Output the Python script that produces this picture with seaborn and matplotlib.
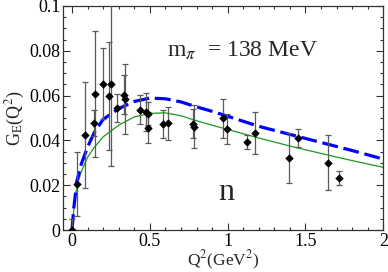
import numpy as np
import pandas as pd
import seaborn as sns
from matplotlib import pyplot as plt

# measured points (Q^2, G_E, error)
q2_data = [0.0, 0.032, 0.081, 0.143, 0.147, 0.201, 0.238, 0.251, 0.291, 0.334,
           0.343, 0.437, 0.476, 0.490, 0.490, 0.583, 0.619, 0.780, 0.782, 0.969,
           0.995, 1.127, 1.177, 1.397, 1.449, 1.642, 1.717]
ge_data = [0.0, 0.0205, 0.0425, 0.0477, 0.0608, 0.0653, 0.0599, 0.0653, 0.0546, 0.0605,
           0.0585, 0.0538, 0.0528, 0.0519, 0.0457, 0.0475, 0.0476, 0.0474, 0.0461, 0.0499,
           0.0450, 0.0392, 0.0435, 0.0322, 0.0410, 0.0301, 0.0233]
ge_err = [0.005, 0.0143, 0.0236, 0.0058, 0.028, 0.0158, 0.0242, 0.0366, 0.0062, 0.0085,
          0.0155, 0.0063, 0.0085, 0.0052, 0.0069, 0.0062, 0.0072, 0.0065, 0.0096, 0.0086,
          0.0066, 0.0032, 0.0094, 0.0113, 0.004, 0.0123, 0.003]

# dashed curve
q2_dash = [0.0, 0.012, 0.032, 0.06, 0.1, 0.143, 0.2, 0.3, 0.4, 0.5, 0.6, 0.7,
           0.8, 0.9, 1.0, 1.2, 1.4, 1.6, 1.8, 2.0]
ge_dash = [0.0, 0.010, 0.022, 0.0295, 0.037, 0.0435, 0.0494, 0.0542, 0.0574, 0.0589,
           0.0586, 0.0572, 0.0550, 0.0530, 0.0508, 0.0463, 0.0427, 0.0391, 0.0355, 0.0317]

# solid curve
q2_solid = [0.0, 0.012, 0.032, 0.06, 0.1, 0.143, 0.2, 0.3, 0.4, 0.5, 0.6, 0.7,
            0.8, 0.9, 1.0, 1.2, 1.4, 1.6, 1.8, 2.0]
ge_solid = [0.0, 0.009, 0.0199, 0.026, 0.0325, 0.0369, 0.0416, 0.0468, 0.0505, 0.0521,
            0.0523, 0.0510, 0.0488, 0.0468, 0.0449, 0.0411, 0.0375, 0.0342, 0.0310, 0.0280]

sns.set_style("ticks")
plt.rcParams['font.family'] = ['Liberation Serif', 'DejaVu Serif']
plt.rcParams['mathtext.fontset'] = 'stix'

fig = plt.figure(figsize=(3.88, 2.72), dpi=100)
ax = fig.add_axes([0.163, 0.154, 0.825, 0.824])

df_dash = pd.DataFrame({'q2': q2_dash, 'ge': ge_dash})
df_solid = pd.DataFrame({'q2': q2_solid, 'ge': ge_solid})
df_pts = pd.DataFrame({'q2': q2_data, 'ge': ge_data, 'err': ge_err})

sns.lineplot(data=df_solid, x='q2', y='ge', ax=ax, color='#1a9a1a', lw=0.9,
             sort=False, estimator=None)
sns.lineplot(data=df_dash, x='q2', y='ge', ax=ax, color='#0000ff', lw=2.3,
             sort=False, estimator=None)
ax.lines[-1].set_dashes((5, 1.8))

ax.errorbar(df_pts['q2'], df_pts['ge'], yerr=df_pts['err'], fmt='none',
            ecolor='#5a5a5a', elinewidth=0.9, capsize=2.5, capthick=0.9, zorder=3)
sns.scatterplot(data=df_pts, x='q2', y='ge', ax=ax, marker='D', s=15,
                color='black', edgecolor='black', linewidth=0.4, zorder=4)

ax.set_xlim(-0.056, 2)
ax.set_ylim(0, 0.1)
ax.set_xticks([0, 0.5, 1, 1.5, 2])
ax.set_xticklabels(['0', '0.5', '1', '1.5', '2'])
ax.set_yticks([0, 0.02, 0.04, 0.06, 0.08, 0.1])
ax.set_yticklabels(['0', '0.02', '0.04', '0.06', '0.08', '0.1'])
ax.set_xticks(np.arange(0, 2.01, 0.1), minor=True)
ax.set_yticks(np.arange(0, 0.1001, 0.005), minor=True)
ax.tick_params(which='both', direction='in', top=True, right=True,
               labelsize=13, width=0.8, colors='#333333', labelcolor='black')
ax.tick_params(which='major', length=5, pad=2)
ax.tick_params(which='minor', length=2.5)
for s in ax.spines.values():
    s.set_linewidth(0.9)
    s.set_color('#333333')

ax.set_xlabel(r'Q$^2$(GeV$^2$)', fontsize=12.5, labelpad=-1)
ax.set_ylabel(r'G$_\mathrm{E}$(Q$^2$)', fontsize=13, labelpad=2)

ax.text(0.61, 0.0774, r'm$_\pi$  = 138 MeV', fontsize=17, ha='left', va='baseline')
ax.text(0.939, 0.0133, 'n', fontsize=23, ha='left', va='baseline')

fig.savefig('out.png', dpi=100)
